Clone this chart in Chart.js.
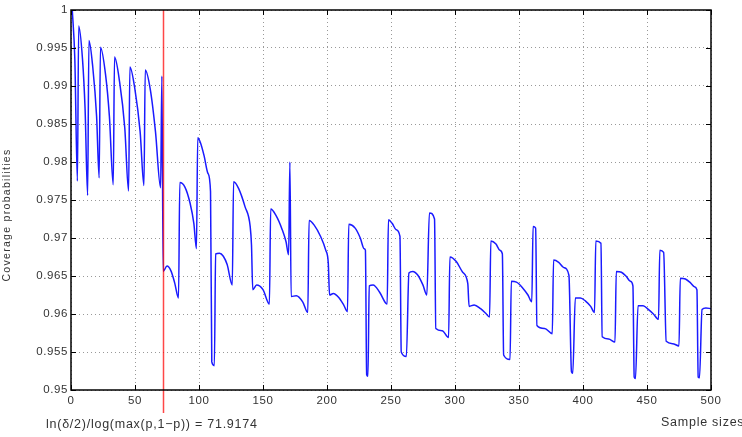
<!DOCTYPE html>
<html><head><meta charset="utf-8">
<script src="https://cdn.jsdelivr.net/npm/chart.js@4/dist/chart.umd.min.js"></script>
<style>html,body{margin:0;padding:0;background:#fff;}#wrap{width:742px;height:437px;}</style>
</head><body><div id="wrap"><canvas id="c" width="742" height="437"></canvas></div>
<script>
const sampleSizes = [1,3,5,6,9,11,13,14,17,20,22,23,27,30,33,34,38,42,45,46,50,54,57,58,62,66,70,71,
72,75,78,81,84,85,89,93,96,98,99,101,104,107,109,110,112,113,116,119,122,126,127,131,136,140,141,
142,145,150,155,156,160,165,168,170,171,172,176,181,185,186,190,195,199,201,202,205,209,213,216,
217,222,226,229,230,231,232,233,236,241,246,247,248,251,254,257,258,262,264,267,271,275,278,280,284,
285,290,295,296,301,306,310,311,315,320,324,327,328,332,335,337,338,343,344,348,353,357,360,361,363,
364,370,376,377,381,385,389,391,392,394,398,402,406,409,410,414,415,420,425,426,430,434,437,439,
440,441,443,447,451,455,459,460,463,465,470,475,476,480,484,487,489,490,491,493,496,500];
const coverage = [1.0000,0.9935,0.9775,0.9979,0.9935,0.9870,0.9756,0.9960,0.9925,0.9860,0.9779,0.9951,0.9915,0.9860,0.9770,0.9938,0.9905,0.9845,0.9762,0.9925,0.9895,0.9840,0.9769,0.9921,0.9895,0.9840,0.9766,0.9913,
0.9656,0.9663,0.9657,0.9641,0.9621,0.9773,0.9767,0.9746,0.9719,0.9686,0.9832,0.9826,0.9808,0.9785,0.9761,0.9537,0.9532,0.9679,0.9680,0.9676,0.9665,0.9638,0.9774,0.9765,0.9741,0.9715,0.9691,
0.9632,0.9638,0.9632,0.9613,0.9738,0.9730,0.9711,0.9695,0.9678,0.9800,0.9623,0.9624,0.9616,0.9602,0.9723,0.9717,0.9702,0.9684,0.9667,0.9625,0.9627,0.9622,0.9612,0.9603,
0.9718,0.9713,0.9700,0.9686,0.9684,0.9520,0.9518,0.9637,0.9638,0.9629,0.9614,0.9613,0.9724,0.9719,0.9711,0.9702,0.9550,0.9544,0.9654,0.9656,0.9651,0.9638,0.9625,0.9733,0.9725,
0.9581,0.9578,0.9569,0.9675,0.9669,0.9655,0.9640,0.9610,0.9612,0.9607,0.9601,0.9596,0.9696,0.9692,0.9684,0.9679,0.9546,0.9540,0.9643,0.9642,0.9634,0.9625,0.9616,0.9715,0.9713,
0.9585,0.9581,0.9574,0.9671,0.9668,0.9661,0.9651,0.9524,0.9522,0.9621,0.9621,0.9617,0.9610,0.9602,0.9696,0.9693,0.9570,0.9567,0.9563,0.9656,0.9655,0.9649,0.9643,0.9637,
0.9517,0.9515,0.9611,0.9611,0.9606,0.9600,0.9593,0.9684,0.9681,0.9564,0.9561,0.9558,0.9647,0.9646,0.9641,0.9636,0.9632,0.9517,0.9516,0.9606,0.9608,0.9607];
const xTicks = [0,50,100,150,200,250,300,350,400,450,500];
const xTickLabels = ['0','50','100','150','200','250','300','350','400','450','500'];
const yTicks = [0.95,0.955,0.96,0.965,0.97,0.975,0.98,0.985,0.99,0.995,1];
const yTickLabels = ['0.95','0.955','0.96','0.965','0.97','0.975','0.98','0.985','0.99','0.995','1'];
const thresholdValue = 71.9174;
const thresholdLabel = 'ln(\u03b4/2)/log(max(p,1\u2212p)) = 71.9174';
const xTitle = 'Sample sizes';
const yTitle = 'Coverage probabilities';

const FONT = '"Liberation Sans", Arial, sans-serif';
const points = sampleSizes.map((n,i)=>({x:n,y:coverage[i]}));

const overlay = {
  id:'overlay',
  beforeDraw(chart){ chart.ctx.letterSpacing='0.6px'; },
  afterDatasetsDraw(chart){
    const {ctx, chartArea:a, scales:{x,y}} = chart;
    const line=(x1,y1,x2,y2)=>{ctx.beginPath();ctx.moveTo(x1,y1);ctx.lineTo(x2,y2);ctx.stroke();};
    ctx.save();
    const rx = Math.round(x.getPixelForValue(thresholdValue))+0.5;
    ctx.strokeStyle='rgba(255,0,0,0.72)'; ctx.lineWidth=1.5;
    line(rx,a.top,rx,a.bottom+23);
    ctx.strokeStyle='#000'; ctx.lineWidth=1.5;
    ctx.strokeRect(a.left,a.top,a.right-a.left,a.bottom-a.top);
    ctx.lineWidth=1;
    xTicks.forEach(v=>{const p=Math.round(x.getPixelForValue(v))+0.5; line(p,a.bottom,p,a.bottom-5); line(p,a.top,p,a.top+5);});
    yTicks.forEach(v=>{const p=Math.round(y.getPixelForValue(v))+0.5; line(a.left,p,a.left+5,p); line(a.right,p,a.right-5,p);});
    ctx.fillStyle='#333'; ctx.font='12.5px '+FONT; ctx.textBaseline='middle'; ctx.textAlign='left';
    ctx.letterSpacing='0.75px';
    ctx.fillText(thresholdLabel,46,425);
    ctx.fillText(xTitle,661,423);
    ctx.translate(7,215); ctx.rotate(-Math.PI/2); ctx.textAlign='center'; ctx.font='10.5px '+FONT;
    ctx.letterSpacing='1.3px';
    ctx.fillText(yTitle,0,0);
    ctx.restore();
  }
};

new Chart(document.getElementById('c'),{
  type:'line',
  data:{datasets:[{data:points,borderColor:'#1a1aff',borderWidth:1.5,pointRadius:0,fill:false,cubicInterpolationMode:'monotone'}]},
  options:{
    responsive:false,animation:false,devicePixelRatio:1,
    layout:{padding:{left:0,right:31,top:10,bottom:0}},
    plugins:{legend:{display:false},tooltip:{enabled:false}},
    scales:{
      x:{type:'linear',min:0,max:500,
        afterBuildTicks:s=>{s.ticks=xTicks.map(v=>({value:v}));},
        afterFit:s=>{s.height=47;},
        ticks:{callback:v=>xTickLabels[xTicks.indexOf(v)],font:{family:FONT,size:11.5},color:'#333',padding:4,maxRotation:0,autoSkip:false},
        grid:{color:'#999',lineWidth:1,drawTicks:false},
        border:{display:false,dash:[1,3]}},
      y:{type:'linear',min:0.95,max:1,
        afterBuildTicks:s=>{s.ticks=yTicks.map(v=>({value:v}));},
        afterFit:s=>{s.width=71;},
        ticks:{callback:v=>yTickLabels[yTicks.indexOf(v)],font:{family:FONT,size:11.5},color:'#333',padding:3,autoSkip:false},
        grid:{color:'#999',lineWidth:1,drawTicks:false},
        border:{display:false,dash:[1,3]}}
    }
  },
  plugins:[overlay]
});
</script></body></html>
